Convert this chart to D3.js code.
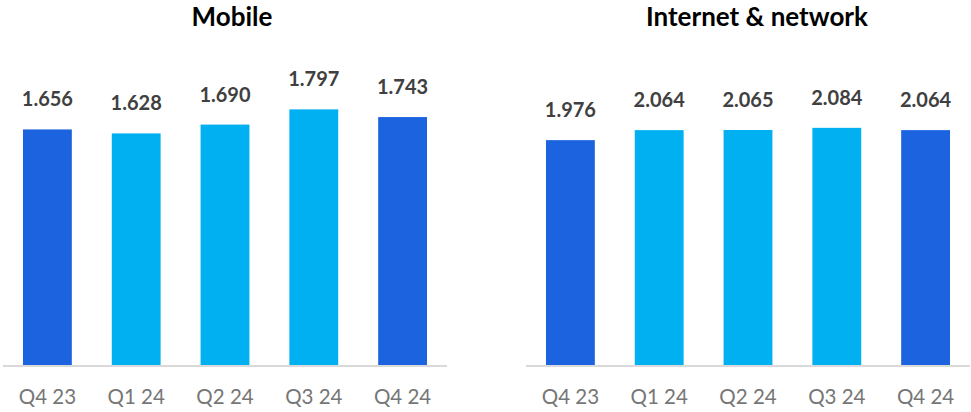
<!DOCTYPE html>
<html>
<head>
<meta charset="utf-8">
<script src="https://cdn.jsdelivr.net/npm/d3@7/dist/d3.min.js"></script>
<style>
  html, body { margin: 0; padding: 0; background: #ffffff; }
  svg { display: block; }
</style>
</head>
<body>
<svg id="chart" width="971" height="412"></svg>
<script>
// Quarterly figures for the two business lines
const quarters = ["Q4 23", "Q1 24", "Q2 24", "Q3 24", "Q4 24"];
const mobileValues = [1.656, 1.628, 1.690, 1.797, 1.743];
const internetValues = [1.976, 2.064, 2.065, 2.084, 2.064];
const panelTitles = ["Mobile", "Internet & network"];
const barColors = ["#1c63e0", "#00b0f0", "#00b0f0", "#00b0f0", "#1c63e0"];

const svg = d3.select("#chart");
const baseline = 365;
const plotTop = 80.5;

const panels = [
  { title: panelTitles[0], values: mobileValues, x0: 3, x1: 447, yMax: 2.0, titleX: 232 },
  { title: panelTitles[1], values: internetValues, x0: 526, x1: 970, yMax: 2.5, titleX: 757 }
];

const fmt = d3.format(".3f");

panels.forEach(p => {
  const g = svg.append("g");

  const x = d3.scaleBand()
    .domain(quarters)
    .range([p.x0, p.x1])
    .paddingInner(0.45)
    .paddingOuter(0.225);

  const y = d3.scaleLinear()
    .domain([0, p.yMax])
    .range([baseline, plotTop]);

  const data = quarters.map((q, i) => ({ q, v: p.values[i], c: barColors[i] }));

  // Bars
  g.selectAll("rect.bar")
    .data(data)
    .join("rect")
    .attr("class", "bar")
    .attr("x", d => x(d.q))
    .attr("y", d => y(d.v))
    .attr("width", x.bandwidth())
    .attr("height", d => baseline - y(d.v))
    .attr("fill", d => d.c);

  // Value labels
  g.selectAll("text.val")
    .data(data)
    .join("text")
    .attr("class", "val")
    .attr("x", d => x(d.q) + x.bandwidth() / 2)
    .attr("y", d => y(d.v) - 23)
    .attr("text-anchor", "middle")
    .attr("font-family", "Lato, 'Open Sans', sans-serif")
    .attr("font-weight", "bold")
    .attr("font-size", 20)
    .attr("fill", "#404040")
    .text(d => fmt(d.v));

  // Category axis
  const axis = d3.axisBottom(x).tickSize(0).tickPadding(0);
  const ag = g.append("g")
    .attr("transform", `translate(0,${baseline + 1})`)
    .call(axis);
  ag.select(".domain")
    .attr("stroke", "#d9d9d9")
    .attr("stroke-width", 2)
    .attr("d", `M${p.x0},0H${p.x1}`);
  ag.selectAll(".tick text")
    .attr("y", 38)
    .attr("dy", 0)
    .attr("font-family", "Lato, 'Open Sans', sans-serif")
    .attr("font-size", 20.5)
    .attr("fill", "#767676");

  // Panel title
  g.append("text")
    .attr("x", p.titleX)
    .attr("y", 26)
    .attr("text-anchor", "middle")
    .attr("font-family", "Lato, 'Open Sans', sans-serif")
    .attr("font-weight", "bold")
    .attr("font-size", 26)
    .attr("fill", "#000000")
    .text(p.title);
});
</script>
</body>
</html>
